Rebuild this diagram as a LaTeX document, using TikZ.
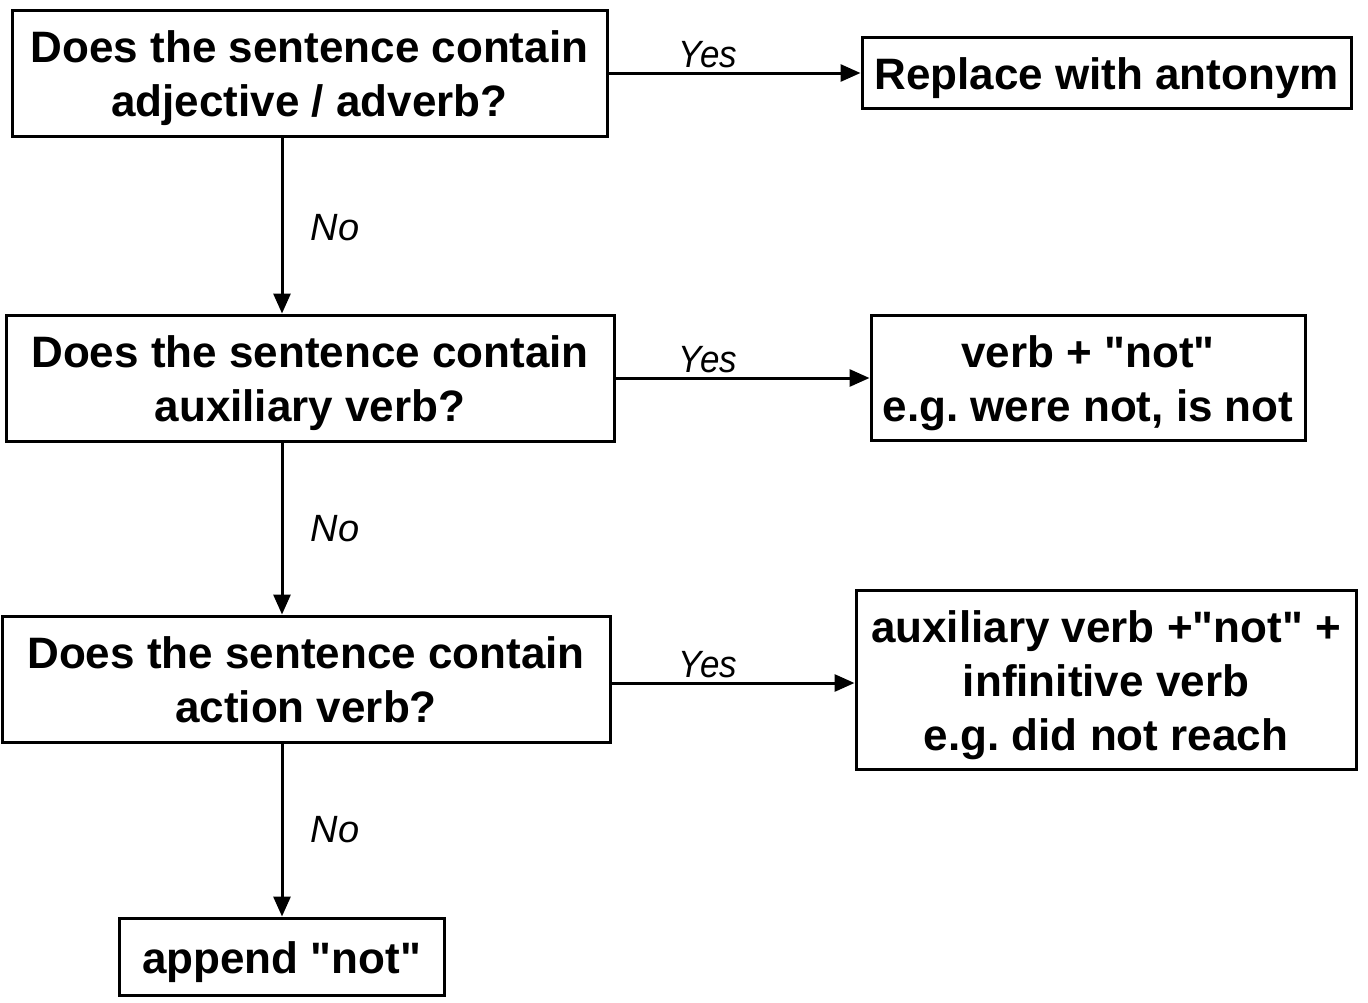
\documentclass[tikz,border=0pt]{standalone}
\usepackage{fontspec}
\setmainfont{Liberation Sans}[Ligatures=TeXOff]
\usetikzlibrary{arrows.meta}
\newcommand\lns[1]{\raisebox{0pt}[\height][\dimexpr\depth-12pt\relax]{\begin{tabular}{@{}c@{}}#1\end{tabular}}}
\begin{document}
\frenchspacing
\begin{tikzpicture}[x=1pt,y=-1pt,
  box/.style={draw, line width=3pt, align=center, inner sep=0pt,
    font=\fontsize{44}{54}\selectfont\bfseries},
  conn/.style={line width=3pt, -{Triangle[length=20pt,width=17pt]}},
  lbl/.style={font=\fontsize{38}{40}\selectfont\itshape}]
\useasboundingbox (0,0) rectangle (1368,1002);
\node[box, minimum width=595pt, minimum height=126pt] (b1) at (309.5,73) {\lns{Does the sentence contain\\adjective / adverb?}};
\node[box, minimum width=489pt, minimum height=71pt] (r1) at (1106.5,72.5) {\lns{Replace with antonym}};
\node[box, minimum width=608pt, minimum height=126pt] (b2) at (310,378) {\lns{Does the sentence contain\\auxiliary verb?}};
\node[box, minimum width=434pt, minimum height=125pt] (r2) at (1088,377.5) {\lns{verb + "not"\\e.g. were not, is not}};
\node[box, minimum width=608pt, minimum height=126pt] (b3) at (306,679) {\lns{Does the sentence contain\\action verb?}};
\node[box, minimum width=500pt, minimum height=179pt] (r3) at (1106,679.5) {\lns{auxiliary verb +"not" +\\infinitive verb\\e.g. did not reach}};
\node[box, minimum width=325pt, minimum height=77pt] (b4) at (281.5,956.5) {\lns{append "not"}};
\coordinate (t1) at (282,136);
\coordinate (t2) at (282,441);
\coordinate (t3) at (282,742);
\draw[conn] (t1) -- (t1 |- b2.north);
\draw[conn] (t2) -- (t2 |- b3.north);
\draw[conn] (t3) -- (t3 |- b4.north);
\draw[conn] (b1.east |- 0,73) -- (r1.west |- 0,73);
\draw[conn] (b2.east |- 0,378) -- (r2.west |- 0,378);
\draw[conn] (b3.east |- 0,683) -- (r3.west |- 0,683);
\node[lbl, xscale=0.92] (y1) at (708,55) {Yes};
\node[lbl, xscale=0.92] (y2) at (708,360) {Yes};
\node[lbl, xscale=0.92] (y3) at (708,665) {Yes};
\node[lbl] (n1) at (335,228) {No};
\node[lbl] (n2) at (335,529) {No};
\node[lbl] (n3) at (335,830) {No};
\end{tikzpicture}
\end{document}
